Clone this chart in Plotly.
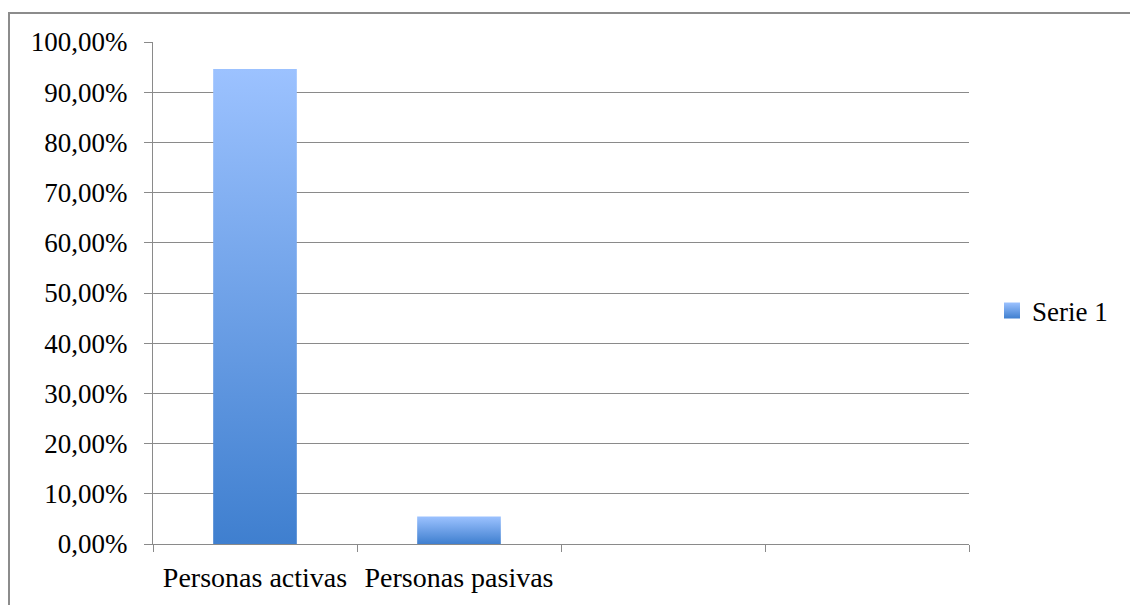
import plotly.graph_objects as go

# ---- data ----
categories = ["Personas activas", "Personas pasivas", "", " "]
values = [94.6, 5.5, None, None]
series_name = "Serie 1"
y_ticks = [0, 10, 20, 30, 40, 50, 60, 70, 80, 90, 100]
y_tick_labels = ["0,00%", "10,00%", "20,00%", "30,00%", "40,00%", "50,00%",
                 "60,00%", "70,00%", "80,00%", "90,00%", "100,00%"]

FONT = "Liberation Serif"
GRID = "#8a8a8a"
LIGHT = "#9cc2ff"
DARK = "#3f7fcf"
BAR_W = 0.41

# page body has an 8px margin: compensate so the figure lands at the same pixels
OFF = 8
W, H = 1138 - OFF, 605 - OFF
L, T = 153 - OFF, 42 - OFF
PW, PH = 816, 504

fig = go.Figure()

for i, v in enumerate(values):
    if v is None:
        continue
    c = i + 0.5
    xs = [c - BAR_W / 2, c + BAR_W / 2, c + BAR_W / 2, c - BAR_W / 2, c - BAR_W / 2]
    ys = [0, 0, v, v, 0]
    fig.add_trace(go.Scatter(
        x=xs, y=ys, mode="none", fill="toself",
        fillgradient=dict(type="vertical", colorscale=[[0, DARK], [1, LIGHT]]),
        showlegend=False, hoverinfo="skip", xaxis="x", yaxis="y",
    ))

fig.add_trace(go.Scatter(
    x=[None], y=[None], mode="markers", name=series_name,
    marker=dict(symbol="square", size=16, color=LIGHT,
                gradient=dict(type="vertical", color=DARK)),
    xaxis="x", yaxis="y",
))

fig.add_trace(go.Scatter(x=[None], y=[None], xaxis="x2", yaxis="y",
                         showlegend=False, hoverinfo="skip"))

n = len(categories)


def px_x(px):
    return (px - 153) / PW


def px_y(py):
    return (546 - py) / PH


fig.update_layout(
    width=W, height=H,
    margin=dict(l=L, r=W - L - PW, t=T, b=H - T - PH, pad=0),
    paper_bgcolor="white", plot_bgcolor="white",
    font=dict(family=FONT, size=27, color="#000000"),
    showlegend=True,
    legend=dict(x=px_x(992), xanchor="left", y=px_y(312), yanchor="middle",
                font=dict(family=FONT, size=27), bgcolor="rgba(0,0,0,0)",
                itemwidth=30),
    xaxis=dict(range=[0, n], tickvals=list(range(n + 1)), showticklabels=False,
               ticks="outside", ticklen=7, tickcolor=GRID, tickwidth=1,
               showline=True, linecolor=GRID, linewidth=1, showgrid=False,
               zeroline=False, fixedrange=True),
    xaxis2=dict(range=[0, n], overlaying="x", side="bottom", anchor="y",
                tickvals=[i + 0.5 for i in range(n)], ticktext=categories,
                ticks="", showline=False, showgrid=False, zeroline=False,
                ticklabelstandoff=14, tickfont=dict(family=FONT, size=28)),
    yaxis=dict(range=[0, 100], tickvals=y_ticks, ticktext=y_tick_labels,
               ticks="outside", ticklen=8, tickcolor=GRID, tickwidth=1,
               showline=True, linecolor=GRID, linewidth=1,
               showgrid=True, gridcolor=GRID, gridwidth=1, zeroline=False,
               ticklabelstandoff=11, tickfont=dict(family=FONT, size=27)),
    shapes=[dict(type="rect", xref="paper", yref="paper",
                 x0=px_x(9), x1=px_x(1135),
                 y0=px_y(640), y1=px_y(13),
                 line=dict(color="#8c8c8c", width=2), fillcolor="rgba(0,0,0,0)",
                 layer="below")],
)

fig.write_html("out.html")
